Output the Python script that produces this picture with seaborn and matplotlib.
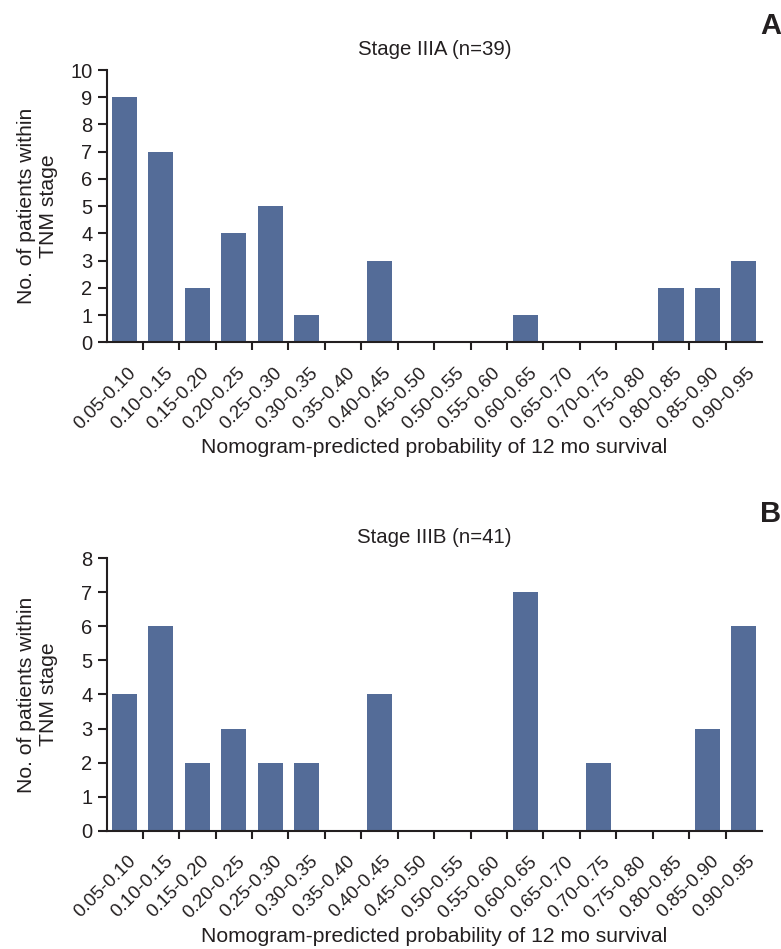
import matplotlib
matplotlib.use('Agg')
import matplotlib.pyplot as plt
import matplotlib.transforms as mtransforms
import numpy as np
import pandas as pd
import seaborn as sns

# 数据
categories = ['0.05-0.10', '0.10-0.15', '0.15-0.20', '0.20-0.25', '0.25-0.30',
              '0.30-0.35', '0.35-0.40', '0.40-0.45', '0.45-0.50', '0.50-0.55',
              '0.55-0.60', '0.60-0.65', '0.65-0.70', '0.70-0.75', '0.75-0.80',
              '0.80-0.85', '0.85-0.90', '0.90-0.95']
stage_iiia = [9, 7, 2, 4, 5, 1, 0, 3, 0, 0, 0, 1, 0, 0, 0, 2, 2, 3]
stage_iiib = [4, 6, 2, 3, 2, 2, 0, 4, 0, 0, 0, 7, 0, 2, 0, 0, 3, 6]

sns.set_style('white')
plt.rcParams['font.family'] = ['Liberation Sans', 'DejaVu Sans']

BAR = '#546C98'
INK = '#231F20'


def draw_panel(fig, ax, values, title, ymax):
    df = pd.DataFrame({'cat': categories, 'n': values})
    sns.barplot(data=df, x='cat', y='n', color=BAR, width=0.69,
                saturation=1, linewidth=0, ax=ax)
    ax.set_xlim(-0.48, len(categories) - 0.5)
    ax.set_ylim(0, ymax)
    ax.set_yticks(range(0, ymax + 1))
    ax.set_title(title, fontsize=14.7, color=INK, pad=11)
    ax.set_xlabel('Nomogram-predicted probability of 12 mo survival',
                  fontsize=15.2, color=INK, va='top')
    ax.xaxis.set_label_coords(0.5, -0.352)
    ax.set_ylabel('No. of patients within\nTNM stage', fontsize=15.2,
                  color=INK)
    ax.yaxis.set_label_coords(-0.075, 0.5)
    for s in ['top', 'right']:
        ax.spines[s].set_visible(False)
    for s in ['left', 'bottom']:
        ax.spines[s].set_linewidth(1.5)
        ax.spines[s].set_color(INK)
    ax.tick_params(axis='y', which='major', length=6.5, width=1.5, color=INK,
                   labelsize=14.5, labelcolor=INK, pad=4, left=True)
    # 刻度线在类别边界, 标签在类别中心
    ax.set_xticks(np.arange(len(categories)))
    ax.set_xticklabels(categories, rotation=45, ha='right',
                       rotation_mode='anchor')
    ax.set_xticks(np.arange(0.5, len(categories) - 1, 1), minor=True)
    ax.tick_params(axis='x', which='major', length=0, labelsize=13.5,
                   labelcolor=INK, pad=16)
    ax.tick_params(axis='x', which='minor', length=6, width=1.5, color=INK,
                   bottom=True, direction='out')
    shift = mtransforms.ScaledTranslation(0.03, 0, fig.dpi_scale_trans)
    for lab in ax.get_xticklabels():
        lab.set_transform(lab.get_transform() + shift)


fig = plt.figure(figsize=(7.81, 9.49), dpi=100)
ax1 = fig.add_axes([0.137, 0.6393, 0.8387, 0.2869])
ax2 = fig.add_axes([0.137, 0.1247, 0.8387, 0.2870])

draw_panel(fig, ax1, stage_iiia, 'Stage IIIA (n=39)', 10)
draw_panel(fig, ax2, stage_iiib, 'Stage IIIB (n=41)', 8)

fig.text(0.9872, 0.9731, 'A', fontsize=21, fontweight='bold', color=INK,
         ha='center', va='center')
fig.text(0.9872, 0.4589, 'B', fontsize=21, fontweight='bold', color=INK,
         ha='center', va='center')

fig.savefig('out.png', dpi=100)
